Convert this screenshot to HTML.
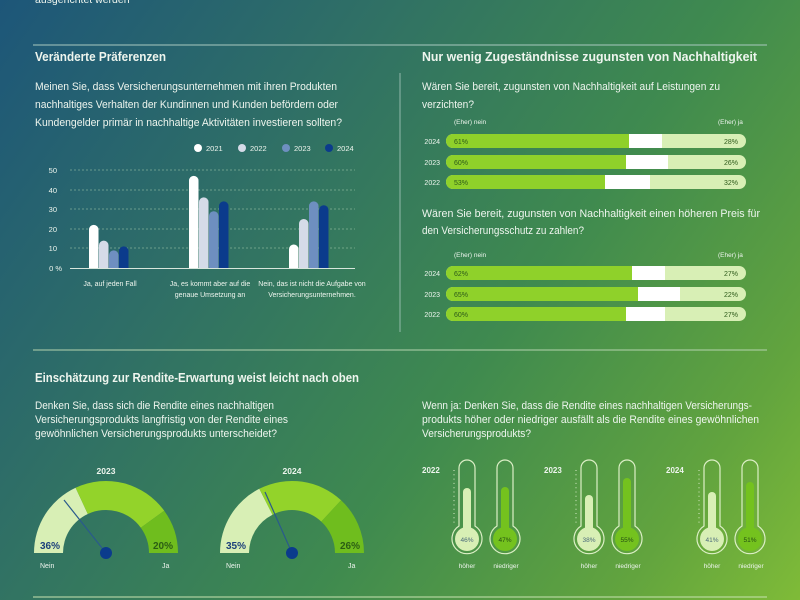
<!DOCTYPE html>
<html><head><meta charset="utf-8"><style>
html,body{margin:0;padding:0}
body{width:800px;height:600px;overflow:hidden;background:linear-gradient(125deg,#1d5679 0%,#2f6f66 30%,#3f8a4f 60%,#62a43e 85%,#7fbb38 100%);font-family:"Liberation Sans",sans-serif}
svg{display:block}
text{font-family:"Liberation Sans",sans-serif;fill:#eef5ee}
.d{fill:#2d5a1a}
</style></head><body>
<svg width="800" height="600" viewBox="0 0 800 600">
<defs><clipPath id="c"><rect x="0" y="0" width="800" height="268"/></clipPath></defs>
<text x="35" y="3" font-size="10.5">ausgerichtet werden</text>
<line x1="33" y1="45" x2="767" y2="45" stroke="#a9c9bf" stroke-width="1"/>
<line x1="400" y1="73" x2="400" y2="332" stroke="#a9c9bf" stroke-width="0.8"/>
<line x1="33" y1="350" x2="767" y2="350" stroke="#b5d3ae" stroke-width="1"/>
<line x1="33" y1="597" x2="767" y2="597" stroke="#c8e3b0" stroke-width="1"/>

<text x="35" y="61" font-size="12.5" font-weight="bold" textLength="131" lengthAdjust="spacingAndGlyphs">Veränderte Präferenzen</text>
<text x="35" y="90" font-size="10.8" textLength="302" lengthAdjust="spacingAndGlyphs">Meinen Sie, dass Versicherungsunternehmen mit ihren Produkten</text>
<text x="35" y="108" font-size="10.8" textLength="303" lengthAdjust="spacingAndGlyphs">nachhaltiges Verhalten der Kundinnen und Kunden befördern oder</text>
<text x="35" y="126" font-size="10.8" textLength="307" lengthAdjust="spacingAndGlyphs">Kundengelder primär in nachhaltige Aktivitäten investieren sollten?</text>

<g font-size="7.5">
<circle cx="198" cy="148" r="4" fill="#fff"/><text x="206" y="151">2021</text>
<circle cx="242" cy="148" r="4" fill="#d5dbe8"/><text x="250" y="151">2022</text>
<circle cx="286" cy="148" r="4" fill="#6e8fc0"/><text x="294" y="151">2023</text>
<circle cx="329" cy="148" r="4" fill="#0b3b8c"/><text x="337" y="151">2024</text>
</g>
<g stroke="#a9cfb0" stroke-width="0.6" stroke-dasharray="2,2">
<line x1="70" y1="170" x2="355" y2="170"/><line x1="70" y1="190" x2="355" y2="190"/><line x1="70" y1="209" x2="355" y2="209"/><line x1="70" y1="229" x2="355" y2="229"/><line x1="70" y1="248" x2="355" y2="248"/>
</g>
<line x1="70" y1="268.5" x2="355" y2="268.5" stroke="#d8e6dc" stroke-width="1"/>
<g font-size="7.5" text-anchor="end">
<text x="57" y="173">50</text><text x="57" y="193">40</text><text x="57" y="212">30</text><text x="57" y="232">20</text><text x="57" y="251">10</text><text x="62" y="271">0 %</text>
</g>
<g clip-path="url(#c)">
<rect x="89" y="224.9" width="9.5" height="50" rx="4.7" fill="#fff"/>
<rect x="99" y="240.6" width="9.5" height="40" rx="4.7" fill="#d5dbe8"/>
<rect x="109" y="250.4" width="9.5" height="30" rx="4.7" fill="#6e8fc0"/>
<rect x="119" y="246.4" width="9.5" height="30" rx="4.7" fill="#0b3b8c"/>
<rect x="189" y="175.9" width="9.5" height="100" rx="4.7" fill="#fff"/>
<rect x="199" y="197.4" width="9.5" height="80" rx="4.7" fill="#d5dbe8"/>
<rect x="209" y="211.2" width="9.5" height="60" rx="4.7" fill="#6e8fc0"/>
<rect x="219" y="201.4" width="9.5" height="70" rx="4.7" fill="#0b3b8c"/>
<rect x="289" y="244.5" width="9.5" height="30" rx="4.7" fill="#fff"/>
<rect x="299" y="219" width="9.5" height="55" rx="4.7" fill="#d5dbe8"/>
<rect x="309" y="201.4" width="9.5" height="70" rx="4.7" fill="#6e8fc0"/>
<rect x="319" y="205.3" width="9.5" height="70" rx="4.7" fill="#0b3b8c"/>
</g>
<g font-size="7" text-anchor="middle">
<text x="110" y="286">Ja, auf jeden Fall</text>
<text x="210" y="286">Ja, es kommt aber auf die</text><text x="210" y="297">genaue Umsetzung an</text>
<text x="312" y="286">Nein, das ist nicht die Aufgabe von</text><text x="312" y="297">Versicherungsunternehmen.</text>
</g>

<text x="422" y="61" font-size="12.5" font-weight="bold" textLength="335" lengthAdjust="spacingAndGlyphs">Nur wenig Zugeständnisse zugunsten von Nachhaltigkeit</text>
<text x="422" y="90" font-size="10.8" textLength="298" lengthAdjust="spacingAndGlyphs">Wären Sie bereit, zugunsten von Nachhaltigkeit auf Leistungen zu</text>
<text x="422" y="108" font-size="10.8" textLength="52" lengthAdjust="spacingAndGlyphs">verzichten?</text>
<g font-size="6.5"><text x="454" y="124">(Eher) nein</text><text x="718" y="124">(Eher) ja</text>
<text x="454" y="257">(Eher) nein</text><text x="718" y="257">(Eher) ja</text></g>
<text x="422" y="217" font-size="10.8" textLength="338" lengthAdjust="spacingAndGlyphs">Wären Sie bereit, zugunsten von Nachhaltigkeit einen höheren Preis für</text>
<text x="422" y="234" font-size="10.8" textLength="162" lengthAdjust="spacingAndGlyphs">den Versicherungsschutz zu zahlen?</text>

<g font-size="7">
<g>
<rect x="446" y="134" width="300" height="14" rx="7" fill="#d8efb5"/><rect x="600" y="134" width="62" height="14" fill="#fff"/><rect x="446" y="134" width="183" height="14" rx="7" fill="#8fd12a"/><rect x="615" y="134" width="14" height="14" fill="#8fd12a"/>
<text x="440" y="144" text-anchor="end">2024</text><text x="454" y="144" class="d">61%</text><text x="738" y="144" text-anchor="end" class="d">28%</text>
</g>
<g>
<rect x="446" y="155" width="300" height="14" rx="7" fill="#d8efb5"/><rect x="600" y="155" width="68" height="14" fill="#fff"/><rect x="446" y="155" width="180" height="14" rx="7" fill="#8fd12a"/><rect x="612" y="155" width="14" height="14" fill="#8fd12a"/>
<text x="440" y="165" text-anchor="end">2023</text><text x="454" y="165" class="d">60%</text><text x="738" y="165" text-anchor="end" class="d">26%</text>
</g>
<g>
<rect x="446" y="175" width="300" height="14" rx="7" fill="#d8efb5"/><rect x="590" y="175" width="60" height="14" fill="#fff"/><rect x="446" y="175" width="159" height="14" rx="7" fill="#8fd12a"/><rect x="591" y="175" width="14" height="14" fill="#8fd12a"/>
<text x="440" y="185" text-anchor="end">2022</text><text x="454" y="185" class="d">53%</text><text x="738" y="185" text-anchor="end" class="d">32%</text>
</g>
<g>
<rect x="446" y="266" width="300" height="14" rx="7" fill="#d8efb5"/><rect x="600" y="266" width="65" height="14" fill="#fff"/><rect x="446" y="266" width="186" height="14" rx="7" fill="#8fd12a"/><rect x="618" y="266" width="14" height="14" fill="#8fd12a"/>
<text x="440" y="276" text-anchor="end">2024</text><text x="454" y="276" class="d">62%</text><text x="738" y="276" text-anchor="end" class="d">27%</text>
</g>
<g>
<rect x="446" y="287" width="300" height="14" rx="7" fill="#d8efb5"/><rect x="600" y="287" width="80" height="14" fill="#fff"/><rect x="446" y="287" width="192" height="14" rx="7" fill="#8fd12a"/><rect x="624" y="287" width="14" height="14" fill="#8fd12a"/>
<text x="440" y="297" text-anchor="end">2023</text><text x="454" y="297" class="d">65%</text><text x="738" y="297" text-anchor="end" class="d">22%</text>
</g>
<g>
<rect x="446" y="307" width="300" height="14" rx="7" fill="#d8efb5"/><rect x="600" y="307" width="65" height="14" fill="#fff"/><rect x="446" y="307" width="180" height="14" rx="7" fill="#8fd12a"/><rect x="612" y="307" width="14" height="14" fill="#8fd12a"/>
<text x="440" y="317" text-anchor="end">2022</text><text x="454" y="317" class="d">60%</text><text x="738" y="317" text-anchor="end" class="d">27%</text>
</g>
</g>

<text x="35" y="382" font-size="12.5" font-weight="bold" textLength="324" lengthAdjust="spacingAndGlyphs">Einschätzung zur Rendite-Erwartung weist leicht nach oben</text>
<text x="35" y="409" font-size="10.8" textLength="239" lengthAdjust="spacingAndGlyphs">Denken Sie, dass sich die Rendite eines nachhaltigen</text>
<text x="35" y="423" font-size="10.8" textLength="253" lengthAdjust="spacingAndGlyphs">Versicherungsprodukts langfristig von der Rendite eines</text>
<text x="35" y="437" font-size="10.8" textLength="242" lengthAdjust="spacingAndGlyphs">gewöhnlichen Versicherungsprodukts unterscheidet?</text>
<text x="422" y="409" font-size="10.8" textLength="330" lengthAdjust="spacingAndGlyphs">Wenn ja: Denken Sie, dass die Rendite eines nachhaltigen Versicherungs-</text>
<text x="422" y="423" font-size="10.8" textLength="337" lengthAdjust="spacingAndGlyphs">produkts höher oder niedriger ausfällt als die Rendite eines gewöhnlichen</text>
<text x="422" y="437" font-size="10.8" textLength="109" lengthAdjust="spacingAndGlyphs">Versicherungsprodukts?</text>

<text x="106" y="474" font-size="8.5" font-weight="bold" text-anchor="middle">2023</text>
<path d="M34,553 A72,72 0 0 1 75.6,487.7 L87.8,514 A43,43 0 0 0 63,553 Z" fill="#d8efb5"/>
<path d="M75.6,487.7 A72,72 0 0 1 164.2,510.7 L140.8,527.7 A43,43 0 0 0 87.8,514 Z" fill="#93d32a"/>
<path d="M164.2,510.7 A72,72 0 0 1 178,553 L149,553 A43,43 0 0 0 140.8,527.7 Z" fill="#6fbd1e"/>
<line x1="106" y1="553" x2="64" y2="500" stroke="#2a5a8c" stroke-width="1.2"/>
<circle cx="106" cy="553" r="6" fill="#0b3b8c"/>
<text x="40" y="549" font-size="10" font-weight="bold" style="fill:#1b3f7a">36%</text>
<text x="153" y="549" font-size="10" font-weight="bold" style="fill:#2b5e14">20%</text>
<text x="40" y="568" font-size="7">Nein</text><text x="162" y="568" font-size="7">Ja</text>

<text x="292" y="474" font-size="8.5" font-weight="bold" text-anchor="middle">2024</text>
<path d="M220,553 A72,72 0 0 1 259.3,488.8 L272.5,514.7 A43,43 0 0 0 249,553 Z" fill="#d8efb5"/>
<path d="M259.3,488.8 A72,72 0 0 1 341.1,500.3 L321.3,521.6 A43,43 0 0 0 272.5,514.7 Z" fill="#93d32a"/>
<path d="M341.1,500.3 A72,72 0 0 1 364,553 L335,553 A43,43 0 0 0 321.3,521.6 Z" fill="#6fbd1e"/>
<line x1="292" y1="553" x2="265" y2="492" stroke="#2a5a8c" stroke-width="1.2"/>
<circle cx="292" cy="553" r="6" fill="#0b3b8c"/>
<text x="226" y="549" font-size="10" font-weight="bold" style="fill:#1b3f7a">35%</text>
<text x="340" y="549" font-size="10" font-weight="bold" style="fill:#2b5e14">26%</text>
<text x="226" y="568" font-size="7">Nein</text><text x="348" y="568" font-size="7">Ja</text>

<g font-size="8" font-weight="bold">
<text x="422" y="473">2022</text><text x="544" y="473">2023</text><text x="666" y="473">2024</text>
</g>
<g stroke="#d8ecc8" stroke-width="1" stroke-dasharray="1,3.3">
<line x1="454" y1="470" x2="454" y2="524"/><line x1="576" y1="470" x2="576" y2="524"/><line x1="699" y1="470" x2="699" y2="524"/>
</g>
<g fill="none" stroke="#dcefc6" stroke-width="1.2">
<path d="M459,526 V468 A8,8 0 0 1 475,468 V526 A15,15 0 1 1 459,526 Z"/>
<path d="M497,526 V468 A8,8 0 0 1 513,468 V526 A15,15 0 1 1 497,526 Z"/>
<path d="M581,526 V468 A8,8 0 0 1 597,468 V526 A15,15 0 1 1 581,526 Z"/>
<path d="M619,526 V468 A8,8 0 0 1 635,468 V526 A15,15 0 1 1 619,526 Z"/>
<path d="M704,526 V468 A8,8 0 0 1 720,468 V526 A15,15 0 1 1 704,526 Z"/>
<path d="M742,526 V468 A8,8 0 0 1 758,468 V526 A15,15 0 1 1 742,526 Z"/>
</g>
<g>
<rect x="463" y="488" width="8" height="45" rx="4" fill="#d8efb5"/><circle cx="467" cy="539" r="12" fill="#d8efb5"/>
<rect x="501" y="487" width="8" height="45" rx="4" fill="#74c21e"/><circle cx="505" cy="539" r="12" fill="#74c21e"/>
<rect x="585" y="495" width="8" height="40" rx="4" fill="#d8efb5"/><circle cx="589" cy="539" r="12" fill="#d8efb5"/>
<rect x="623" y="478" width="8" height="55" rx="4" fill="#74c21e"/><circle cx="627" cy="539" r="12" fill="#74c21e"/>
<rect x="708" y="492" width="8" height="42" rx="4" fill="#d8efb5"/><circle cx="712" cy="539" r="12" fill="#d8efb5"/>
<rect x="746" y="482" width="8" height="52" rx="4" fill="#74c21e"/><circle cx="750" cy="539" r="12" fill="#74c21e"/>
</g>
<g font-size="6.5" text-anchor="middle">
<text x="467" y="542" style="fill:#4a6a7a">46%</text><text x="505" y="542" style="fill:#244e12">47%</text>
<text x="589" y="542" style="fill:#4a6a7a">38%</text><text x="627" y="542" style="fill:#244e12">55%</text>
<text x="712" y="542" style="fill:#4a6a7a">41%</text><text x="750" y="542" style="fill:#244e12">51%</text>
</g>
<g font-size="6.5" text-anchor="middle">
<text x="467" y="568">höher</text><text x="506" y="568">niedriger</text>
<text x="589" y="568">höher</text><text x="628" y="568">niedriger</text>
<text x="712" y="568">höher</text><text x="751" y="568">niedriger</text>
</g>
</svg>
</body></html>
